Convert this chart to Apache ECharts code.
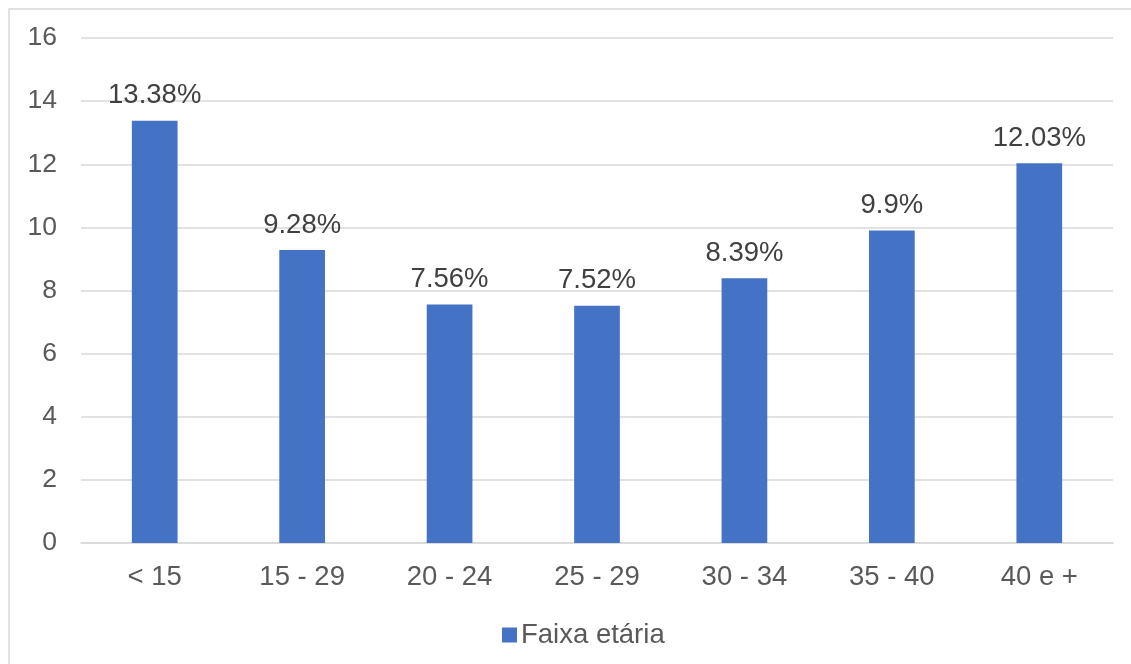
<!DOCTYPE html>
<html>
<head>
<meta charset="utf-8">
<script src="https://cdn.jsdelivr.net/npm/echarts@6/dist/echarts.min.js"></script>
<style>
  html, body { margin: 0; padding: 0; background: #fff; }
  #chart { width: 1131px; height: 664px; }
</style>
</head>
<body>
<div id="chart"></div>
<script>
// Age groups and their shares (%)
const categories = ['< 15', '15 - 29', '20 - 24', '25 - 29', '30 - 34', '35 - 40', '40 e +'];
const values = [13.38, 9.28, 7.56, 7.52, 8.39, 9.9, 12.03];
const seriesName = 'Faixa etária';
const yTicks = { min: 0, max: 16, interval: 2 };

const FONT = 'Liberation Sans, Arial, sans-serif';
const chart = echarts.init(document.getElementById('chart'), null, { renderer: 'canvas' });

chart.setOption({
  backgroundColor: '#ffffff',
  animation: false,
  textStyle: { fontFamily: FONT },
  graphic: [{
    type: 'rect',
    shape: { x: 9, y: 9, width: 1200, height: 700 },
    style: { fill: 'none', stroke: '#D9D9D9', lineWidth: 1.5 },
    silent: true
  }],
  grid: { left: 81, right: 18, top: 38, bottom: 121, containLabel: false },
  legend: {
    top: 616,
    left: 497,
    itemWidth: 15,
    itemHeight: 15,
    itemGap: 8,
    icon: 'rect',
    textStyle: { color: '#595959', fontSize: 27.5, fontFamily: FONT, padding: [0, 0, 0, -1] },
    data: [seriesName]
  },
  xAxis: {
    type: 'category',
    data: categories,
    axisLine: { lineStyle: { color: '#D9D9D9', width: 1.5 } },
    axisTick: { show: false },
    axisLabel: { color: '#595959', fontSize: 27.5, margin: 20 }
  },
  yAxis: {
    type: 'value',
    min: yTicks.min,
    max: yTicks.max,
    interval: yTicks.interval,
    axisLine: { show: false },
    axisTick: { show: false },
    splitLine: { lineStyle: { color: '#D9D9D9', width: 1.5 } },
    axisLabel: { color: '#595959', fontSize: 26.5, margin: 24 }
  },
  series: [{
    name: seriesName,
    type: 'bar',
    data: values,
    barWidth: '31%',
    itemStyle: { color: '#4472C4' },
    label: {
      show: true,
      position: 'top',
      distance: 11,
      color: '#404040',
      fontSize: 27.5,
      formatter: p => p.value + '%'
    }
  }]
});
</script>
</body>
</html>
